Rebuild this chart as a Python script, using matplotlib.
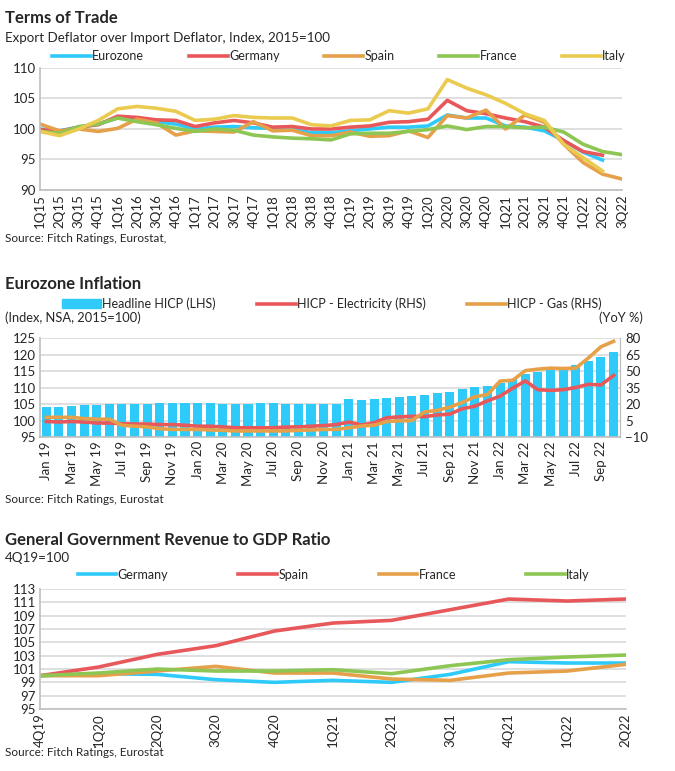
import numpy as np
import matplotlib.pyplot as plt
from matplotlib.patches import Patch
from matplotlib.lines import Line2D

plt.rcParams['font.family'] = ['Lato', 'DejaVu Sans']
plt.rcParams['text.color'] = '#262626'
plt.rcParams['xtick.color'] = '#262626'
plt.rcParams['ytick.color'] = '#262626'

CYAN = '#2ECBFA'
RED = '#E8585A'
ORANGE = '#E6A04A'
GREEN = '#8DC653'
YELLOW = '#EACB50'
GRID = '#D9D9D9'
SPINE = '#BFBFBF'

# --- Terms of Trade (1Q15 - 3Q22) ---
tot_quarters = [f'{q}Q{y}' for y in range(15, 23) for q in range(1, 5)][:31]
tot_eurozone = [100.0, 99.7, 100.3, 100.8, 101.8, 101.5, 101.2, 100.8, 100.0, 100.3, 100.4, 100.2,
                100.1, 99.9, 99.4, 99.4, 99.7, 100.0, 100.3, 100.3, 100.5, 102.3, 101.8, 101.8,
                100.5, 100.3, 99.7, 98.1, 96.2, 94.9, np.nan]
tot_germany = [99.9, 99.6, 100.3, 100.7, 102.1, 101.9, 101.5, 101.4, 100.4, 101.0, 101.4, 101.0,
               100.3, 100.4, 100.0, 100.0, 100.3, 100.5, 101.1, 101.2, 101.6, 104.7, 103.0, 102.5,
               101.8, 101.2, 100.3, 98.1, 96.3, 95.7, np.nan]
tot_spain = [100.8, 99.7, 100.0, 99.6, 100.1, 101.6, 101.0, 99.0, 99.7, 99.6, 99.5, 101.2,
             99.7, 99.8, 98.9, 98.9, 99.5, 98.8, 98.9, 99.7, 98.6, 102.2, 101.8, 103.1,
             100.0, 102.3, 101.1, 97.5, 94.5, 92.6, 91.8]
tot_france = [99.6, 99.3, 100.4, 100.8, 101.8, 101.2, 100.7, 100.1, 99.6, 100.0, 99.8, 99.0,
              98.7, 98.5, 98.4, 98.2, 99.2, 99.3, 99.3, 99.6, 99.9, 100.5, 99.9, 100.4,
              100.4, 100.2, 100.3, 99.5, 97.5, 96.3, 95.8]
tot_italy = [99.6, 98.9, 100.0, 101.4, 103.3, 103.7, 103.4, 102.9, 101.4, 101.6, 102.2, 101.9,
             101.8, 101.8, 100.7, 100.5, 101.4, 101.5, 103.0, 102.6, 103.3, 108.1, 106.7, 105.6,
             104.2, 102.5, 101.4, 97.5, 95.3, 93.1, np.nan]

# --- Eurozone Inflation (Jan 19 - Oct 22) ---
months = ['Jan', 'Feb', 'Mar', 'Apr', 'May', 'Jun', 'Jul', 'Aug', 'Sep', 'Oct', 'Nov', 'Dec']
infl_months = [f'{m} {y}' for y in range(19, 23) for m in months][:46]
hicp_headline = [104.0, 104.0, 104.3, 104.7, 104.7, 104.9, 104.9, 105.1, 105.1, 105.2, 105.2, 105.4,
                 105.4, 105.3, 105.1, 105.0, 104.9, 105.2, 105.4, 105.0, 104.9, 105.0, 105.0, 105.1,
                 106.4, 106.3, 106.6, 106.9, 107.1, 107.3, 107.8, 108.2, 108.6, 109.5, 110.3, 110.5,
                 111.3, 112.6, 114.2, 114.6, 115.4, 116.3, 116.7, 118.0, 119.2, 120.8]
hicp_electricity = [4.1, 3.6, 4.1, 3.6, 2.7, 2.7, 2.1, 1.8, 1.8, 1.3, 1.3, 0.7,
                    -0.2, -0.2, -0.8, -1.6, -1.6, -1.6, -1.6, -1.0, -0.8, -0.2, 0.4, 1.3,
                    3.6, 0.9, 3.0, 7.5, 8.3, 8.8, 8.5, 10.0, 10.8, 15.7, 18.0, 22.9,
                    27.2, 34.4, 41.0, 33.0, 32.4, 33.0, 35.0, 37.9, 37.3, 46.0]
hicp_gas = [7.9, 7.9, 7.9, 6.7, 6.2, 6.2, 0.7, -0.2, -0.8, -2.5, -3.1, -3.1,
            -3.1, -3.6, -3.9, -4.5, -4.5, -4.5, -4.5, -4.5, -3.9, -3.6, -3.1, -3.1,
            -1.6, 0.0, 0.7, 4.1, 4.7, 5.0, 12.8, 14.2, 17.1, 21.4, 26.6, 28.6,
            40.8, 41.6, 50.3, 51.7, 52.6, 52.3, 52.6, 61.8, 72.0, 77.0]

# --- General Government Revenue to GDP (4Q19 - 2Q22) ---
rev_quarters = ['4Q19', '1Q20', '2Q20', '3Q20', '4Q20', '1Q21', '2Q21', '3Q21', '4Q21', '1Q22', '2Q22']
rev_germany = [100.0, 100.3, 100.2, 99.4, 99.0, 99.3, 99.0, 100.2, 102.1, 101.9, 101.9]
rev_spain = [100.0, 101.3, 103.2, 104.5, 106.7, 107.9, 108.3, 109.9, 111.5, 111.2, 111.5]
rev_france = [100.0, 100.0, 100.7, 101.4, 100.4, 100.4, 99.5, 99.3, 100.4, 100.7, 101.7]
rev_italy = [100.0, 100.4, 101.0, 100.7, 100.7, 100.9, 100.3, 101.5, 102.4, 102.8, 103.1]

LW = 2.6


def style_axes(ax, right_spine=False):
    ax.grid(True, axis='y', color=GRID, linewidth=1.2)
    ax.set_axisbelow(True)
    for side in ['top', 'right']:
        ax.spines[side].set_visible(False)
    for side in ['left', 'bottom']:
        ax.spines[side].set_color(SPINE)
        ax.spines[side].set_linewidth(1.2)
    if right_spine:
        ax.spines['right'].set_visible(True)
        ax.spines['right'].set_color(SPINE)
    ax.tick_params(length=0, labelsize=9.5, pad=3)


def add_legend(handles, ncol, box):
    fig.legend(handles=handles, loc='lower left', bbox_to_anchor=box, mode='expand', ncol=ncol,
               frameon=False, fontsize=9, handlelength=3.1, handletextpad=0.12,
               borderaxespad=0, borderpad=0)


fig = plt.figure(figsize=(6.75, 7.71), dpi=100)

# Chart 1
ax1 = fig.add_axes([0.0593, 0.7536, 0.862, 0.1582])
x1 = np.arange(len(tot_quarters))
for vals, col, lab in [(tot_eurozone, CYAN, 'Eurozone'), (tot_germany, RED, 'Germany'),
                       (tot_spain, ORANGE, 'Spain'), (tot_france, GREEN, 'France'),
                       (tot_italy, YELLOW, 'Italy')]:
    ax1.plot(x1, vals, color=col, linewidth=LW, label=lab)
ax1.set_xlim(0, 30)
ax1.set_ylim(90, 110)
ax1.set_yticks([90, 95, 100, 105, 110])
ax1.set_xticks(x1)
ax1.set_xticklabels(tot_quarters, rotation=90)
style_axes(ax1)
add_legend(ax1.get_lines(), 5, (0.077, 0.919, 0.85, 0.03))
fig.text(0.007, 0.9767, 'Terms of Trade', fontsize=12, fontweight='bold', va='center')
fig.text(0.007, 0.9507, 'Export Deflator over Import Deflator, Index, 2015=100', fontsize=9.6, va='center')
fig.text(0.007, 0.6913, 'Source: Fitch Ratings, Eurostat,', fontsize=8.5, va='center')

# Chart 2
ax2 = fig.add_axes([0.0593, 0.4332, 0.859, 0.1284])
x2 = np.arange(len(infl_months))
ax2.bar(x2, hicp_headline, width=0.72, color=CYAN, bottom=0)
ax2.set_ylim(95, 125)
ax2.set_yticks(np.arange(95, 126, 5))
ax2.set_xlim(-0.5, 45.5)
ax2.set_xticks(x2[::2])
ax2.set_xticklabels(infl_months[::2], rotation=90)
style_axes(ax2, right_spine=True)
ax2r = ax2.twinx()
ax2r.plot(x2, hicp_electricity, color=RED, linewidth=LW)
ax2r.plot(x2, hicp_gas, color=ORANGE, linewidth=LW)
ax2r.set_ylim(-10, 80)
ax2r.set_yticks(np.arange(-10, 81, 15))
for side in ['top', 'left', 'bottom']:
    ax2r.spines[side].set_visible(False)
ax2r.spines['right'].set_color(SPINE)
ax2r.tick_params(length=0, labelsize=9.5, pad=4)
handles2 = [Patch(color=CYAN, label='Headline HICP (LHS)'),
            Line2D([], [], color=RED, linewidth=LW, label='HICP - Electricity (RHS)'),
            Line2D([], [], color=ORANGE, linewidth=LW, label='HICP - Gas (RHS)')]
add_legend(handles2, 3, (0.092, 0.598, 0.8, 0.03))
fig.text(0.007, 0.6316, 'Eurozone Inflation', fontsize=12, fontweight='bold', va='center')
fig.text(0.007, 0.5875, '(Index, NSA, 2015=100)', fontsize=9.3, va='center')
fig.text(0.952, 0.5875, '(YoY %)', fontsize=9.3, va='center', ha='right')
fig.text(0.007, 0.3515, 'Source: Fitch Ratings, Eurostat', fontsize=8.5, va='center')

# Chart 3
ax3 = fig.add_axes([0.0593, 0.0804, 0.868, 0.1556])
x3 = np.arange(len(rev_quarters))
for vals, col, lab in [(rev_germany, CYAN, 'Germany'), (rev_spain, RED, 'Spain'),
                       (rev_france, ORANGE, 'France'), (rev_italy, GREEN, 'Italy')]:
    ax3.plot(x3, vals, color=col, linewidth=LW, label=lab)
ax3.set_xlim(0, 10)
ax3.set_ylim(95, 113)
ax3.set_yticks(np.arange(95, 114, 2))
ax3.set_xticks(x3)
ax3.set_xticklabels(rev_quarters, rotation=90)
style_axes(ax3)
add_legend(ax3.get_lines(), 4, (0.115, 0.247, 0.759, 0.02))
fig.text(0.007, 0.2996, 'General Government Revenue to GDP Ratio', fontsize=12, fontweight='bold', va='center')
fig.text(0.007, 0.2763, '4Q19=100', fontsize=9.6, va='center')
fig.text(0.007, 0.0246, 'Source: Fitch Ratings, Eurostat', fontsize=8.5, va='center')

fig.savefig('out.png', dpi=100)
